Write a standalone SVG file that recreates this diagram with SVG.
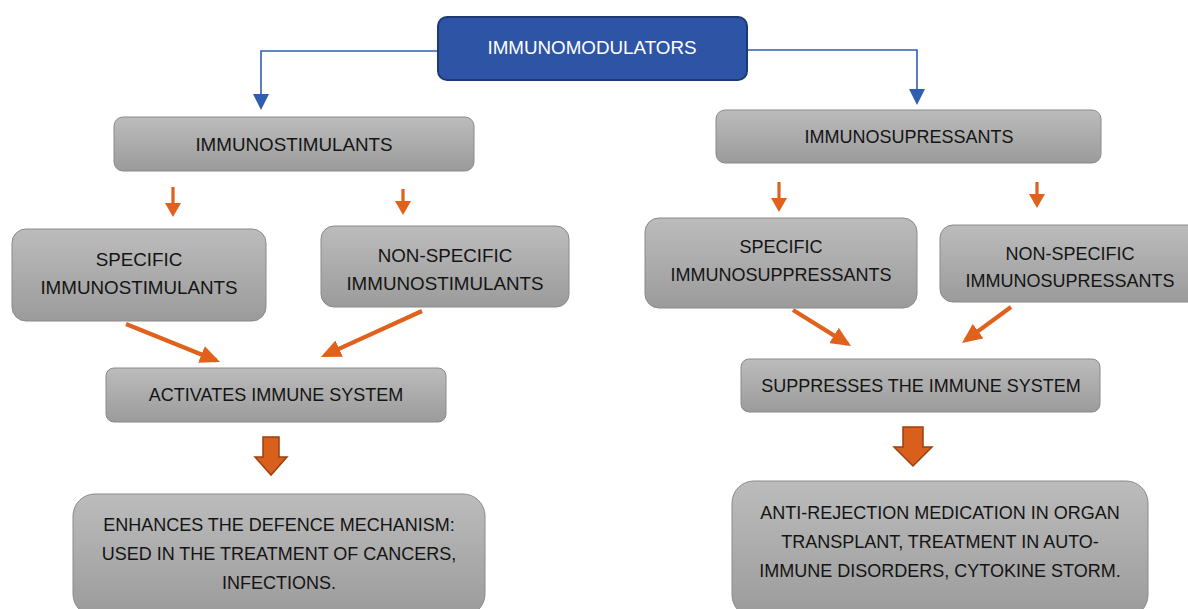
<svg xmlns="http://www.w3.org/2000/svg" width="1188" height="609" viewBox="0 0 1188 609">
<defs>
<linearGradient id="gray" x1="0" y1="0" x2="0" y2="1">
<stop offset="0" stop-color="#bcbcbc"/>
<stop offset="1" stop-color="#9b9b9b"/>
</linearGradient>
<marker id="blueHead" viewBox="0 0 16 16" refX="12" refY="8" markerWidth="16" markerHeight="16" markerUnits="userSpaceOnUse" orient="auto">
<path d="M0,0 L16,8 L0,16 z" fill="#2F5DB0"/>
</marker>
<marker id="smallHead" viewBox="0 0 14 16" refX="10" refY="8" markerWidth="14" markerHeight="16" markerUnits="userSpaceOnUse" orient="auto">
<path d="M0,0 L14,8 L0,16 z" fill="#E0611C"/>
</marker>
<marker id="diagHead" viewBox="0 0 20 18" refX="16" refY="9" markerWidth="20" markerHeight="18" markerUnits="userSpaceOnUse" orient="auto">
<path d="M0,0 L20,9 L0,18 z" fill="#E0611C"/>
</marker>
</defs>
<style>
.box{fill:url(#gray);stroke:#8a8a8a;stroke-width:1}
.main{fill:#2E55A5;stroke:#1D3A77;stroke-width:2}
text{font-family:"Liberation Sans",Arial,sans-serif;fill:#141414;text-anchor:middle;dominant-baseline:central}
.t18{font-size:18px}
.t19{font-size:18.8px}
.white{fill:#ffffff}
.blue{fill:none;stroke:#2F5DB0;stroke-width:1.6}
.small{fill:none;stroke:#E0611C;stroke-width:3.2}
.diag{fill:none;stroke:#E0611C;stroke-width:4.2}
.block{fill:#D9601C;stroke:#9E3F0E;stroke-width:1.5}
</style>
<rect width="1188" height="609" fill="#ffffff"/>

<g id="connectors">
<path class="blue" d="M438,51 H261 V106" marker-end="url(#blueHead)"/>
<path class="blue" d="M747,50 H917 V101" marker-end="url(#blueHead)"/>
<path class="small" d="M173,187 V213" marker-end="url(#smallHead)"/>
<path class="small" d="M403,189 V211" marker-end="url(#smallHead)"/>
<path class="small" d="M779,182 V208" marker-end="url(#smallHead)"/>
<path class="small" d="M1037,182 V204" marker-end="url(#smallHead)"/>
<path class="diag" d="M126,324 L216.3,360.5" marker-end="url(#diagHead)"/>
<path class="diag" d="M422,311 L324.6,355.3" marker-end="url(#diagHead)"/>
<path class="diag" d="M793,310 L847.6,343.9" marker-end="url(#diagHead)"/>
<path class="diag" d="M1011,307 L965.2,340.6" marker-end="url(#diagHead)"/>
<polygon class="block" points="263,437 279,437 279,457 287,457 271,475 255,457 263,457"/>
<polygon class="block" points="903,427 923,427 923,447 932,447 913,466 894,447 903,447"/>
</g>

<g id="immunomodulators">
<rect class="main" x="438" y="17" width="309" height="63" rx="9"/>
<text class="t19 white" x="592" y="47">IMMUNOMODULATORS</text>
</g>

<g id="immunostimulants">
<rect class="box" x="114" y="117" width="360" height="54" rx="9"/>
<text class="t19" x="294" y="144">IMMUNOSTIMULANTS</text>
</g>

<g id="immunosupressants">
<rect class="box" x="716" y="110" width="385" height="53" rx="9"/>
<text class="t18" x="909" y="137">IMMUNOSUPRESSANTS</text>
</g>

<g id="specific-immunostimulants">
<rect class="box" x="12" y="229" width="254" height="92" rx="14"/>
<text class="t19" x="139" y="259">SPECIFIC</text>
<text class="t19" x="139" y="287">IMMUNOSTIMULANTS</text>
</g>

<g id="nonspecific-immunostimulants">
<rect class="box" x="321" y="226" width="248" height="81" rx="13"/>
<text class="t19" x="445" y="255">NON-SPECIFIC</text>
<text class="t19" x="445" y="283">IMMUNOSTIMULANTS</text>
</g>

<g id="activates">
<rect class="box" x="106" y="368" width="340" height="54" rx="8"/>
<text class="t18" x="276" y="395">ACTIVATES IMMUNE SYSTEM</text>
</g>

<g id="enhances">
<rect class="box" x="73" y="494" width="412" height="122" rx="22"/>
<text class="t18" x="279" y="525">ENHANCES THE DEFENCE MECHANISM:</text>
<text class="t18" x="279" y="554">USED IN THE TREATMENT OF CANCERS,</text>
<text class="t18" x="279" y="583">INFECTIONS.</text>
</g>

<g id="specific-immunosuppressants">
<rect class="box" x="645" y="218" width="272" height="90" rx="14"/>
<text class="t18" x="781" y="247">SPECIFIC</text>
<text class="t18" x="781" y="275">IMMUNOSUPPRESSANTS</text>
</g>

<g id="nonspecific-immunosupressants">
<rect class="box" x="940" y="225" width="262" height="77" rx="13"/>
<text class="t18" x="1070" y="254">NON-SPECIFIC</text>
<text class="t18" x="1070" y="281">IMMUNOSUPRESSANTS</text>
</g>

<g id="suppresses">
<rect class="box" x="741" y="359" width="359" height="53" rx="8"/>
<text class="t18" x="921" y="386">SUPPRESSES THE IMMUNE SYSTEM</text>
</g>

<g id="anti-rejection">
<rect class="box" x="732" y="481" width="416" height="136" rx="22"/>
<text class="t18" x="940" y="513">ANTI-REJECTION MEDICATION IN ORGAN</text>
<text class="t18" x="940" y="542">TRANSPLANT, TREATMENT IN AUTO-</text>
<text class="t18" x="940" y="571">IMMUNE DISORDERS, CYTOKINE STORM.</text>
</g>
</svg>
